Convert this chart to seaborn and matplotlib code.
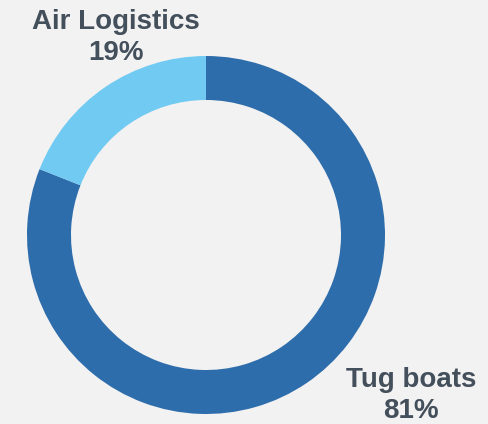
import matplotlib
matplotlib.use("Agg")
import matplotlib.pyplot as plt
import seaborn as sns

# data
segments = ["Tug boats", "Air Logistics"]
shares = [81, 19]
seg_colors = ["#2e6dab", "#71caf2"]

BG = "#f2f2f2"
TEXT = "#434f5b"

sns.set_style("white")
plt.rcParams['font.family'] = ['Liberation Sans', 'DejaVu Sans']

fig = plt.figure(figsize=(4.88, 4.24), dpi=100, facecolor=BG)
ax = fig.add_axes([0, 0, 1, 1])
ax.set_facecolor(BG)

# donut, starting at 12 o'clock and running clockwise
ax.pie(shares, colors=seg_colors, startangle=90, counterclock=False,
       center=(206, 189), radius=179,
       wedgeprops=dict(width=44, linewidth=0), frame=True)

ax.set_xlim(0, 488)
ax.set_ylim(0, 424)
ax.set_aspect('equal')
ax.axis('off')

# labels
label_pos = {"Air Logistics": (116, 395), "Tug boats": (411, 37)}
for name, val in zip(segments, shares):
    x, y = label_pos[name]
    ax.text(x, y, name, ha='center', va='baseline', fontsize=20,
            fontweight='bold', color=TEXT)
    ax.text(x, y - 31, f"{val}%", ha='center', va='baseline', fontsize=20,
            fontweight='bold', color=TEXT)

fig.savefig("out.png", dpi=100, facecolor=BG)
plt.close(fig)
